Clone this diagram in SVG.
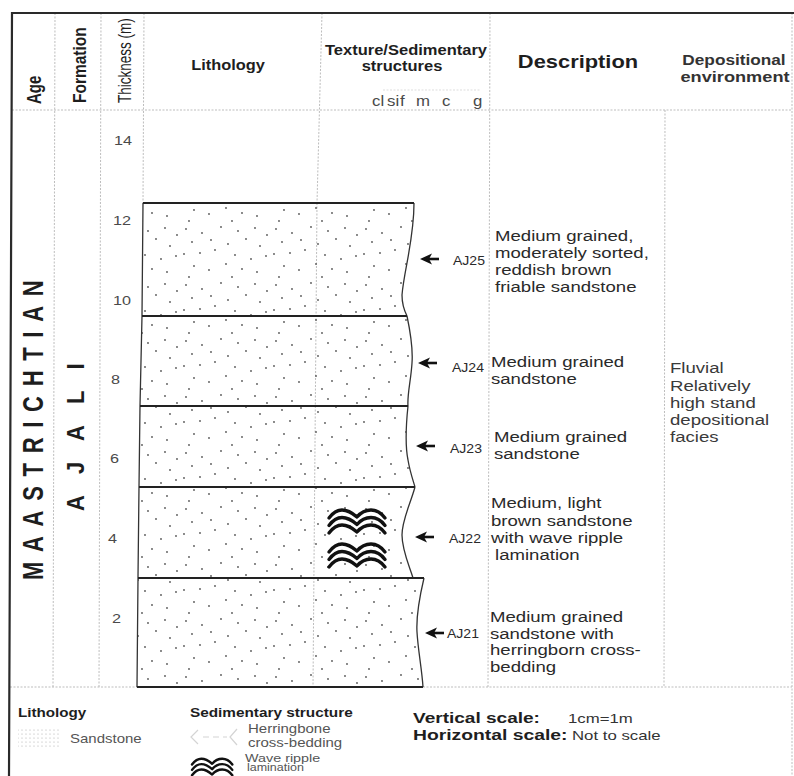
<svg xmlns="http://www.w3.org/2000/svg" width="794" height="776" viewBox="0 0 794 776">
<style>
text{font-family:"Liberation Sans",Arial,sans-serif;fill:#1e1e1e}
.b{font-weight:bold}
.g{fill:#4a4a4a}
.d{font-size:15px;fill:#2a2a2a}
.lab{font-size:12px;fill:#2a2a2a}
.grid{stroke:#bdbdbd;stroke-width:1;stroke-dasharray:2 1.5;fill:none}
.frame{stroke:#2a2a2a;stroke-width:2.2;fill:none}
.bed{fill:url(#dots);stroke:none}
.edge{stroke:#333;stroke-width:1.3;fill:none}
.bnd{stroke:#222;stroke-width:2.2;fill:none}
.rip{stroke:#111;stroke-width:3.4;fill:none;stroke-linecap:round;stroke-linejoin:round}
</style>
<defs>
<pattern id="dots" patternUnits="userSpaceOnUse" width="90" height="56">
<g fill="#555">
<circle cx="6" cy="5" r="0.9"/><circle cx="22" cy="9" r="0.9"/><circle cx="41" cy="3" r="0.9"/><circle cx="58" cy="7" r="0.9"/><circle cx="75" cy="4" r="0.9"/><circle cx="87" cy="11" r="0.9"/>
<circle cx="12" cy="18" r="0.9"/><circle cx="31" cy="16" r="0.9"/><circle cx="48" cy="20" r="0.9"/><circle cx="66" cy="15" r="0.9"/><circle cx="80" cy="22" r="0.9"/><circle cx="35" cy="26" r="0.9"/>
<circle cx="4" cy="30" r="0.9"/><circle cx="20" cy="29" r="0.9"/><circle cx="55" cy="31" r="0.9"/><circle cx="71" cy="35" r="0.9"/><circle cx="86" cy="32" r="0.9"/>
<circle cx="14" cy="42" r="0.9"/><circle cx="29" cy="46" r="0.9"/><circle cx="46" cy="40" r="0.9"/><circle cx="62" cy="45" r="0.9"/><circle cx="77" cy="48" r="0.9"/><circle cx="9" cy="53" r="0.9"/><circle cx="52" cy="53" r="0.9"/>
</g>
</pattern>
<pattern id="lgdots" patternUnits="userSpaceOnUse" width="4" height="4">
<circle cx="2" cy="2" r="0.6" fill="#aaa"/>
</pattern>
<g id="ripple">
<path class="rip" d="M0,9 Q6,1 13,1 Q20,1 28,8 Q34,1 42,1 Q50,1 56,9"/>
<path class="rip" d="M0,16.5 Q6,8.5 13,8.5 Q20,8.5 28,15.5 Q34,8.5 42,8.5 Q50,8.5 56,16.5"/>
<path class="rip" d="M0,24 Q6,16 13,16 Q20,16 28,23 Q34,16 42,16 Q50,16 56,24"/>
</g>
<g id="arr">
<path d="M0,0 L12,-5.5 L9,0 L12,5.5 Z" fill="#111"/>
<line x1="8" y1="0" x2="19" y2="0" stroke="#111" stroke-width="2.6"/>
</g>
</defs>
<rect width="794" height="776" fill="#fff"/>

<g id="grid">
<line class="grid" x1="55" y1="13" x2="53" y2="687"/>
<line class="grid" x1="101" y1="13" x2="99" y2="687"/>
<line class="grid" x1="144" y1="13" x2="143" y2="203"/>
<line class="grid" x1="322" y1="13" x2="317" y2="203"/>
<line class="grid" x1="317" y1="203" x2="313" y2="687"/>
<line class="grid" x1="490" y1="13" x2="488" y2="687"/>
<line class="grid" x1="665" y1="110" x2="664" y2="687"/>
<line class="grid" x1="792" y1="13" x2="792" y2="776"/>
<line class="grid" x1="12" y1="110" x2="792" y2="110"/>
<line class="grid" x1="383" y1="90" x2="480" y2="90" style="stroke:#ddd"/>
<line class="grid" x1="10" y1="687" x2="792" y2="687"/>
<path class="frame" d="M9,776 L12,13 L794,13"/>
</g>

<g id="header">
<text class="b" font-size="15" transform="translate(41,104) scale(1.3,1) rotate(-90)">Age</text>
<text class="b" font-size="15.5" transform="translate(86,103) scale(1.2,1) rotate(-90)">Formation</text>
<text font-size="13.5" transform="translate(131,103) scale(1.3,1) rotate(-90)">Thickness (m)</text>
<text class="b" font-size="14" text-anchor="middle" transform="matrix(1.17 0 0 1 228 70)">Lithology</text>
<text class="b" font-size="14" text-anchor="middle" transform="matrix(1.18 0 0 1 406 55)">Texture/Sedimentary</text>
<text class="b" font-size="14" text-anchor="middle" transform="matrix(1.18 0 0 1 402 71)">structures</text>
<text class="b" font-size="17.5" text-anchor="middle" transform="matrix(1.25 0 0 1 578 68)">Description</text>
<text class="b" font-size="14" text-anchor="middle" style="fill:#333" transform="matrix(1.23 0 0 1 734 65)">Depositional</text>
<text class="b" font-size="14" text-anchor="middle" style="fill:#333" transform="matrix(1.3 0 0 1 735 82)">environment</text>
<g font-size="14">
<text class="g" transform="matrix(1.2 0 0 1 372 106)">cl</text>
<text class="g" transform="matrix(1.2 0 0 1 387 106)">si</text>
<text class="g" transform="matrix(1.2 0 0 1 400 106)">f</text>
<text class="g" transform="matrix(1.2 0 0 1 416 106)">m</text>
<text class="g" transform="matrix(1.2 0 0 1 442 106)">c</text>
<text class="g" transform="matrix(1.2 0 0 1 473 106)">g</text>
</g>
</g>

<g id="scale" font-size="13.5">
<text class="g" transform="matrix(1.2 0 0 1 114 145)">14</text>
<text class="g" transform="matrix(1.2 0 0 1 113 225)">12</text>
<text class="g" transform="matrix(1.2 0 0 1 113 305)">10</text>
<text class="g" transform="matrix(1.2 0 0 1 111 384)">8</text>
<text class="g" transform="matrix(1.2 0 0 1 110 463)">6</text>
<text class="g" transform="matrix(1.2 0 0 1 108 543)">4</text>
<text class="g" transform="matrix(1.2 0 0 1 112 623)">2</text>
</g>

<g id="age">
<text class="b" font-size="22" letter-spacing="9.7" transform="translate(43,580) scale(1.3,1) rotate(-90)">MAASTRICHTIAN</text>
</g>
<g id="formation">
<text class="b" font-size="22" letter-spacing="21" transform="translate(84,511) scale(1.1,1) rotate(-90)">AJALI</text>
</g>

<g id="bed-aj25">
<path class="bed" d="M143,203 L414,203 C414,240 404,270 402,295 C402,305 405,312 407,316 L142,316 Z"/>
<path class="edge" d="M143,203 L142,316 M414,203 C414,240 404,270 402,295 C402,305 405,312 407,316"/>
<line class="bnd" x1="143" y1="203" x2="414" y2="203"/>
<text class="lab" transform="matrix(1.17 0 0 1 453 265)">AJ25</text>
<text class="d" transform="matrix(1.24 0 0 1 495 240.5)">Medium grained,</text>
<text class="d" transform="matrix(1.24 0 0 1 495 257.5)">moderately sorted,</text>
<text class="d" transform="matrix(1.24 0 0 1 495 274.5)">reddish brown</text>
<text class="d" transform="matrix(1.24 0 0 1 495 291.5)">friable sandstone</text>
</g>

<g id="bed-aj24">
<path class="bed" d="M142,316 L407,316 C411,335 413,350 412,363 C411,380 407,395 408,406 L140,406 Z"/>
<path class="edge" d="M142,316 L140,406 M407,316 C411,335 413,350 412,363 C411,380 407,395 408,406"/>
<line class="bnd" x1="142" y1="316" x2="407" y2="316"/>
<text class="lab" transform="matrix(1.17 0 0 1 452 371.5)">AJ24</text>
<text class="d" transform="matrix(1.24 0 0 1 491 366.5)">Medium grained</text>
<text class="d" transform="matrix(1.24 0 0 1 491 384)">sandstone</text>
</g>

<g id="bed-aj23">
<path class="bed" d="M140,406 L408,406 C406,425 405,445 408,460 C410,472 413,480 415,487 L139,487 Z"/>
<path class="edge" d="M140,406 L139,487 M408,406 C406,425 405,445 408,460 C410,472 413,480 415,487"/>
<line class="bnd" x1="140" y1="406" x2="408" y2="406"/>
<text class="lab" transform="matrix(1.17 0 0 1 450 453)">AJ23</text>
<text class="d" transform="matrix(1.24 0 0 1 494 441.5)">Medium grained</text>
<text class="d" transform="matrix(1.24 0 0 1 494 458.5)">sandstone</text>
</g>

<g id="bed-aj22">
<path class="bed" d="M139,487 L415,487 C410,505 402,520 402,535 C402,550 409,565 413,578 L138,578 Z"/>
<path class="edge" d="M139,487 L138,578 M415,487 C410,505 402,520 402,535 C402,550 409,565 413,578"/>
<line class="bnd" x1="139" y1="487" x2="415" y2="487"/>
<use href="#ripple" x="329" y="509"/>
<use href="#ripple" x="329" y="543"/>
<text class="lab" transform="matrix(1.17 0 0 1 449 543)">AJ22</text>
<text class="d" transform="matrix(1.24 0 0 1 491 508)">Medium, light</text>
<text class="d" transform="matrix(1.24 0 0 1 491 525.5)">brown sandstone</text>
<text class="d" transform="matrix(1.24 0 0 1 491 543)">with wave ripple</text>
<text class="d" transform="matrix(1.24 0 0 1 495 559.5)">lamination</text>
</g>

<g id="bed-aj21">
<path class="bed" d="M138,578 L424,578 C420,595 416,615 417,632 C418,650 422,670 423,687 L137,687 Z"/>
<path class="edge" d="M138,578 L137,687 M424,578 C420,595 416,615 417,632 C418,650 422,670 423,687"/>
<line class="bnd" x1="138" y1="578" x2="424" y2="578"/>
<line class="bnd" x1="137" y1="687" x2="423" y2="687"/>
<text class="lab" transform="matrix(1.17 0 0 1 447 638)">AJ21</text>
<text class="d" transform="matrix(1.24 0 0 1 490 622)">Medium grained</text>
<text class="d" transform="matrix(1.24 0 0 1 490 638.5)">sandstone with</text>
<text class="d" transform="matrix(1.24 0 0 1 490 655)">herringborn cross-</text>
<text class="d" transform="matrix(1.24 0 0 1 490 672)">bedding</text>
</g>

<g id="connectors">
<use href="#arr" x="420" y="259"/>
<use href="#arr" x="418" y="363"/>
<use href="#arr" x="416" y="446"/>
<use href="#arr" x="415" y="537"/>
<use href="#arr" x="425" y="633"/>
</g>

<g id="environment">
<text class="d" style="fill:#3a3a3a" transform="matrix(1.24 0 0 1 670 373)">Fluvial</text>
<text class="d" style="fill:#3a3a3a" transform="matrix(1.24 0 0 1 670 390.5)">Relatively</text>
<text class="d" style="fill:#3a3a3a" transform="matrix(1.24 0 0 1 670 407.5)">high stand</text>
<text class="d" style="fill:#3a3a3a" transform="matrix(1.24 0 0 1 670 424.5)">depositional</text>
<text class="d" style="fill:#3a3a3a" transform="matrix(1.24 0 0 1 670 442)">facies</text>
</g>

<g id="legend">
<text class="b" font-size="13" transform="matrix(1.17 0 0 1 18 717)">Lithology</text>
<rect x="18" y="728" width="42" height="21" fill="url(#lgdots)"/>
<text font-size="12.5" style="fill:#555" transform="matrix(1.2 0 0 1 70 743)">Sandstone</text>
<text class="b" font-size="13" transform="matrix(1.18 0 0 1 190 717)">Sedimentary structure</text>
<g stroke="#d4d4d4" stroke-width="1.2" fill="none">
<path d="M198,730 L191,737 L198,744"/>
<path d="M203,737 L209,737 M213,737 L219,737 M223,737 L227,737"/>
<path d="M237,729 L230,737 L237,745"/>
</g>
<text font-size="12" style="fill:#555" transform="matrix(1.25 0 0 1 248 733)">Herringbone</text>
<text font-size="12" style="fill:#555" transform="matrix(1.25 0 0 1 248 747)">cross-bedding</text>
<use href="#ripple" transform="translate(192,758) scale(0.72,0.72)"/>
<text font-size="11.5" style="fill:#555" transform="matrix(1.25 0 0 1 245 762)">Wave ripple</text>
<text font-size="10" style="fill:#555" transform="matrix(1.25 0 0 1 247 771)">lamination</text>
<text class="b" font-size="14" transform="matrix(1.36 0 0 1 413 723)">Vertical scale:</text>
<text font-size="12" style="fill:#333" transform="matrix(1.4 0 0 1 568 723)">1cm=1m</text>
<text class="b" font-size="14" transform="matrix(1.38 0 0 1 413 740)">Horizontal scale:</text>
<text font-size="12" style="fill:#333" transform="matrix(1.4 0 0 1 572 740)">Not to scale</text>
</g>
</svg>
